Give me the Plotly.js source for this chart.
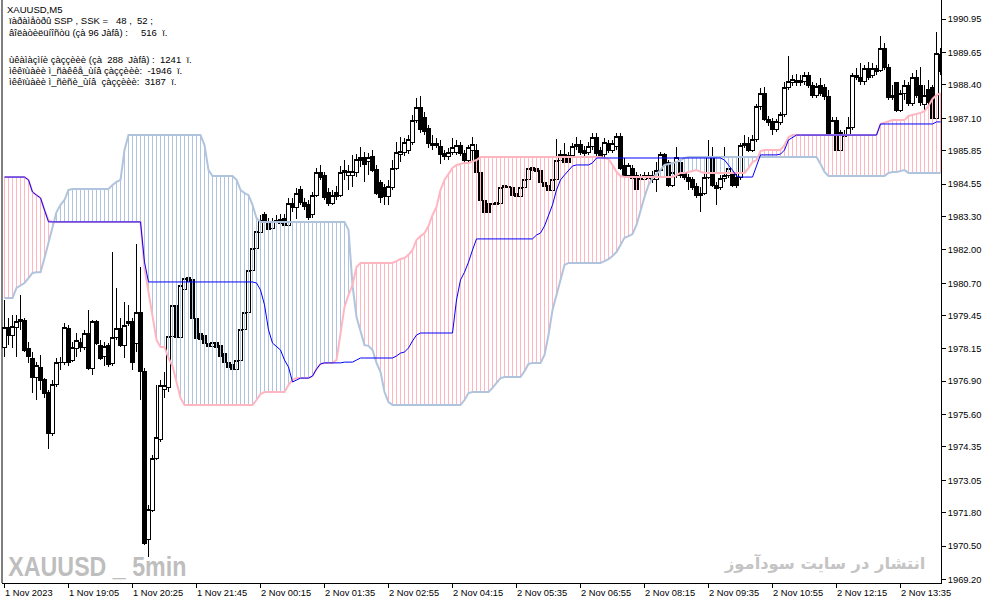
<!DOCTYPE html>
<html><head><meta charset="utf-8">
<script src="https://cdn.plot.ly/plotly-3.0.1.min.js"></script>
<style>html,body{margin:0;padding:0;background:#fff}#chart{width:987px;height:605px}
#chart .scatterlayer .trace:nth-child(-n+2) path.js-line{shape-rendering:crispEdges}
#chart .boxlayer path{shape-rendering:crispEdges}
</style>
</head><body><div id="chart"></div>
<script>
// ---- candles (5-minute bars, oldest first) ----
const opens=[1978.19,1979.00,1978.69,1979.00,1979.20,1979.24,1978.15,1977.80,1977.06,1977.45,
1976.95,1976.48,1974.89,1976.79,1977.61,1977.61,1978.96,1977.72,1978.15,1978.42,
1978.19,1978.77,1977.41,1979.20,1978.30,1977.84,1978.27,1977.57,1978.61,1978.96,
1978.30,1979.12,1979.20,1978.38,1979.58,1977.29,1970.74,1971.90,1973.92,1974.62,
1976.56,1976.64,1978.65,1979.82,1978.58,1980.44,1980.94,1980.83,1979.35,1978.77,
1978.69,1978.38,1978.23,1978.42,1978.30,1977.99,1977.64,1977.53,1977.37,1977.72,
1978.92,1979.58,1981.21,1982.03,1982.65,1983.35,1983.08,1982.84,1983.04,1983.19,
1983.23,1982.96,1983.81,1983.62,1984.32,1983.85,1983.74,1983.35,1984.12,1984.98,
1984.90,1984.24,1983.81,1984.24,1984.12,1984.98,1984.90,1984.90,1984.98,1985.56,
1985.56,1985.44,1985.60,1985.13,1984.59,1984.43,1984.05,1984.43,1985.17,1985.71,
1985.79,1985.87,1986.18,1987.03,1987.50,1987.15,1986.72,1986.14,1986.14,1985.99,
1985.75,1985.60,1985.79,1985.79,1986.06,1985.75,1985.48,1985.87,1985.87,1984.98,
1983.93,1983.81,1983.74,1983.77,1983.81,1984.43,1984.47,1984.43,1984.20,1984.05,
1984.40,1984.71,1985.21,1985.17,1985.09,1984.59,1984.51,1984.28,1984.71,1985.48,
1985.68,1985.64,1985.64,1985.99,1986.10,1985.87,1985.79,1985.99,1986.37,1985.87,
1985.68,1986.14,1985.87,1985.99,1986.41,1985.25,1984.90,1985.17,1984.90,1984.82,
1984.71,1984.78,1984.71,1984.71,1985.09,1985.68,1985.37,1984.51,1984.90,1985.37,
1984.98,1984.82,1984.71,1984.47,1984.20,1984.20,1984.82,1985.60,1984.51,1984.43,
1984.78,1984.90,1984.98,1984.82,1984.82,1986.06,1986.14,1985.87,1986.26,1987.54,
1988.08,1987.07,1986.96,1986.65,1986.92,1987.23,1988.31,1988.47,1988.55,1988.47,
1988.51,1988.78,1988.39,1988.00,1988.39,1988.31,1987.93,1986.45,1987.03,1985.87,
1986.41,1986.49,1986.76,1988.78,1988.70,1988.51,1989.05,1988.78,1989.05,1988.97,
1989.79,1989.09,1987.89,1988.47,1987.42,1988.08,1988.39,1987.69,1988.70,1988.39,
1987.62,1988.20,1988.31,1987.11,1989.56];
const highs=[1980.05,1979.35,1979.47,1979.47,1980.25,1979.35,1978.42,1978.03,1977.64,1977.92,
1977.02,1976.56,1976.95,1977.80,1977.84,1979.16,1979.08,1978.42,1978.77,1978.58,
1978.89,1979.66,1979.27,1979.27,1978.50,1978.42,1978.38,1981.91,1980.52,1979.35,
1979.97,1979.86,1979.35,1982.22,1981.33,1977.41,1972.10,1974.04,1976.75,1976.95,
1977.26,1978.77,1980.05,1980.71,1980.83,1981.02,1981.13,1980.98,1979.47,1978.89,
1978.77,1978.50,1978.50,1978.50,1978.38,1978.11,1977.80,1977.64,1977.80,1979.08,
1979.74,1981.37,1982.18,1982.84,1983.35,1983.46,1983.23,1983.23,1983.35,1983.39,
1983.39,1984.01,1984.01,1984.40,1984.47,1984.01,1983.93,1984.24,1985.17,1985.29,
1985.02,1984.40,1984.32,1984.47,1985.25,1985.48,1985.29,1985.68,1985.71,1985.99,
1985.79,1985.75,1985.87,1985.29,1984.71,1984.55,1984.71,1985.48,1986.18,1986.37,
1986.34,1986.45,1987.23,1987.89,1987.97,1987.35,1986.84,1986.45,1986.34,1986.26,
1985.87,1985.95,1986.34,1986.26,1986.18,1985.87,1986.06,1986.37,1986.10,1985.09,
1984.09,1983.93,1983.93,1983.97,1984.59,1984.71,1984.59,1984.55,1984.32,1984.51,
1984.82,1985.29,1985.37,1985.33,1985.21,1984.71,1984.63,1984.86,1986.30,1985.87,
1986.14,1985.79,1986.14,1986.37,1986.26,1986.03,1986.18,1986.53,1986.53,1985.99,
1986.34,1986.26,1986.26,1986.53,1986.53,1985.56,1985.37,1985.29,1985.02,1984.94,
1985.02,1985.02,1985.06,1985.40,1985.79,1985.75,1985.48,1985.09,1985.99,1985.48,
1985.09,1984.94,1984.82,1984.59,1984.43,1985.60,1986.26,1985.99,1984.63,1984.90,
1985.99,1985.29,1985.09,1984.94,1986.14,1986.45,1986.37,1986.45,1987.66,1988.28,
1988.31,1987.19,1987.11,1987.07,1987.35,1988.51,1989.52,1988.78,1988.82,1988.78,
1988.90,1988.90,1988.51,1988.47,1988.66,1988.43,1988.20,1987.15,1987.15,1986.65,
1986.65,1987.15,1988.86,1989.05,1989.25,1989.17,1989.28,1989.25,1989.17,1990.29,
1990.02,1989.21,1988.39,1988.51,1988.20,1988.59,1988.51,1988.86,1988.97,1989.09,
1988.39,1988.59,1988.39,1990.45,1989.83];
const lows=[1977.84,1978.30,1978.19,1977.84,1978.89,1978.03,1977.61,1976.44,1976.17,1976.56,
1976.25,1974.27,1974.77,1976.67,1977.33,1977.53,1977.49,1977.64,1977.84,1978.03,
1978.11,1977.33,1977.14,1978.30,1977.72,1977.49,1977.45,1977.49,1978.50,1978.23,
1977.80,1979.04,1977.33,1978.03,1976.17,1970.54,1970.08,1971.82,1973.84,1974.54,
1976.25,1976.48,1978.50,1978.42,1978.50,1980.05,1980.44,1979.27,1978.42,1978.34,
1978.27,1978.15,1978.11,1978.03,1977.76,1977.57,1977.37,1977.29,1977.29,1977.64,
1978.85,1979.51,1981.13,1981.91,1982.53,1982.96,1982.65,1982.69,1982.84,1982.84,
1982.84,1982.88,1983.46,1983.19,1983.74,1983.54,1983.15,1983.23,1984.05,1984.71,
1983.93,1983.70,1983.74,1983.93,1984.05,1984.71,1984.32,1984.43,1984.82,1985.21,
1984.63,1984.90,1985.02,1984.12,1983.81,1983.74,1983.74,1984.32,1985.09,1985.40,
1985.64,1985.71,1986.06,1986.92,1986.53,1986.45,1985.95,1985.87,1985.95,1985.33,
1985.48,1985.48,1985.68,1985.68,1985.64,1985.37,1985.37,1985.40,1984.86,1983.74,
1983.39,1983.35,1983.62,1983.70,1983.70,1984.32,1984.24,1984.05,1983.97,1983.97,
1984.32,1984.63,1984.98,1984.90,1984.47,1984.36,1984.20,1984.20,1984.63,1985.37,
1985.29,1985.25,1985.56,1985.87,1985.68,1985.64,1985.68,1985.87,1985.64,1985.48,
1985.56,1985.75,1985.75,1985.87,1985.09,1984.82,1984.78,1984.70,1984.24,1984.59,
1984.63,1984.67,1984.59,1984.24,1985.02,1985.17,1984.43,1984.43,1984.78,1984.78,
1984.71,1984.32,1984.32,1984.01,1983.46,1984.12,1984.74,1984.43,1983.74,1984.32,
1984.63,1984.78,1984.43,1984.40,1984.71,1985.95,1985.79,1985.79,1986.18,1987.42,
1986.99,1986.80,1986.45,1986.57,1986.84,1987.15,1988.20,1988.35,1988.35,1988.35,
1988.39,1988.28,1987.89,1987.89,1987.97,1987.81,1986.37,1986.26,1985.79,1985.79,
1986.26,1986.41,1986.65,1988.59,1988.39,1988.39,1988.59,1988.66,1988.78,1988.90,
1988.97,1987.81,1987.81,1987.35,1987.35,1987.81,1987.58,1987.58,1987.89,1987.58,
1987.42,1987.62,1986.72,1986.72,1988.78];
const closes=[1979.00,1978.69,1979.04,1979.20,1979.31,1978.11,1977.84,1977.06,1977.49,1976.91,
1976.44,1974.89,1976.79,1977.61,1977.64,1979.00,1977.64,1978.19,1978.46,1978.19,
1978.77,1977.41,1979.20,1978.38,1977.80,1978.23,1977.53,1978.61,1978.96,1978.30,
1979.08,1979.20,1977.61,1979.55,1977.26,1970.62,1971.94,1973.92,1974.70,1976.75,
1976.75,1978.65,1979.82,1978.58,1980.63,1980.90,1980.75,1979.35,1978.54,1978.50,
1978.38,1978.23,1978.42,1978.19,1977.84,1977.64,1977.45,1977.37,1977.72,1978.92,
1979.58,1981.21,1982.03,1982.69,1983.15,1983.04,1982.77,1983.08,1983.12,1983.00,
1982.96,1983.81,1983.62,1984.20,1983.85,1983.66,1983.27,1984.12,1984.98,1984.82,
1984.01,1983.81,1984.12,1984.05,1984.98,1985.09,1985.02,1985.02,1985.52,1985.48,
1985.29,1985.56,1985.09,1984.20,1984.01,1984.05,1984.47,1985.17,1985.79,1985.83,
1986.18,1986.26,1987.03,1987.50,1986.65,1986.57,1986.14,1986.06,1986.06,1985.68,
1985.60,1985.79,1985.95,1986.06,1985.75,1985.48,1985.95,1986.10,1984.98,1983.93,
1983.46,1983.43,1983.81,1983.85,1984.43,1984.51,1984.40,1984.12,1984.05,1984.40,
1984.71,1985.17,1985.09,1985.02,1984.59,1984.47,1984.28,1984.71,1985.48,1985.68,
1985.40,1985.40,1985.99,1986.10,1985.79,1985.75,1985.99,1986.37,1985.75,1985.60,
1986.18,1985.87,1986.14,1986.41,1985.17,1984.90,1985.25,1984.78,1984.32,1984.71,
1984.90,1984.90,1984.90,1985.09,1985.68,1985.29,1984.51,1984.98,1985.56,1984.90,
1984.82,1984.63,1984.43,1984.12,1984.12,1984.82,1985.60,1984.51,1984.36,1984.78,
1984.90,1985.17,1984.51,1984.51,1986.06,1986.14,1985.87,1986.26,1987.54,1988.08,
1987.07,1986.92,1986.65,1986.96,1987.23,1988.31,1988.51,1988.59,1988.47,1988.55,
1988.78,1988.39,1988.00,1988.35,1988.08,1987.93,1986.45,1987.03,1985.87,1986.53,
1986.49,1986.76,1988.78,1988.70,1988.51,1989.05,1988.70,1989.05,1988.90,1989.79,
1989.09,1987.89,1987.97,1987.42,1988.08,1988.39,1987.69,1988.70,1988.00,1987.73,
1988.00,1987.73,1987.11,1989.63,1988.90];

// ---- Ichimoku lines ----
const kijun=[1984.82,1984.82,1984.82,1984.82,1984.82,1984.82,1984.71,1984.24,1984.12,1984.01,
1983.54,1983.08,1983.08,1983.08,1983.08,1983.08,1983.08,1983.08,1983.08,1983.08,
1983.08,1983.08,1983.08,1983.08,1983.08,1983.08,1983.08,1983.08,1983.08,1983.08,
1983.08,1983.08,1983.08,1983.08,1983.08,1981.52,1980.75,1980.75,1980.75,1980.75,
1980.75,1980.75,1980.75,1980.75,1980.75,1980.75,1980.75,1980.75,1980.75,1980.75,
1980.75,1980.75,1980.75,1980.75,1980.75,1980.75,1980.75,1980.75,1980.75,1980.75,
1980.75,1980.75,1980.75,1980.71,1980.44,1979.86,1978.89,1978.38,1978.23,1978.11,
1977.72,1977.45,1976.87,1976.95,1977.02,1977.02,1977.02,1977.10,1977.37,1977.57,
1977.61,1977.61,1977.61,1977.61,1977.61,1977.64,1977.64,1977.64,1977.72,1977.80,
1977.80,1977.80,1977.80,1977.80,1977.80,1977.80,1977.80,1977.80,1977.88,1977.99,
1978.03,1978.19,1978.46,1978.69,1978.77,1978.77,1978.77,1978.77,1978.77,1978.77,
1978.77,1978.77,1978.77,1980.05,1980.83,1981.13,1981.52,1981.99,1982.42,1982.42,
1982.42,1982.42,1982.42,1982.42,1982.42,1982.42,1982.42,1982.42,1982.42,1982.42,
1982.42,1982.42,1982.42,1982.57,1982.65,1982.92,1983.35,1983.74,1984.32,1984.71,
1984.90,1985.09,1985.25,1985.29,1985.29,1985.29,1985.29,1985.37,1985.56,1985.56,
1985.56,1985.56,1985.56,1985.56,1985.56,1985.56,1985.56,1985.56,1985.56,1985.56,
1985.56,1985.56,1985.56,1985.56,1985.56,1985.56,1985.56,1985.56,1985.56,1985.56,
1985.56,1985.56,1985.56,1985.56,1985.56,1985.56,1985.56,1985.56,1985.56,1985.56,
1985.48,1985.29,1985.09,1984.86,1984.82,1984.82,1984.82,1984.82,1985.25,1985.68,
1985.68,1985.68,1985.68,1985.68,1985.71,1985.87,1986.26,1986.37,1986.45,1986.45,
1986.45,1986.45,1986.45,1986.45,1986.45,1986.45,1986.45,1986.45,1986.45,1986.45,
1986.45,1986.45,1986.45,1986.45,1986.45,1986.45,1986.45,1986.45,1986.45,1986.88,
1986.88,1986.88,1986.88,1986.88,1986.88,1986.88,1986.88,1986.88,1986.88,1986.88,
1986.88,1986.88,1986.88,1986.96,1986.96];
const spanA=[1984.82,1984.82,1984.82,1984.82,1984.82,1984.82,1984.71,1984.24,1984.12,1984.01,
1983.54,1983.15,1983.08,1983.08,1983.08,1983.08,1983.08,1983.08,1983.08,1983.08,
1983.08,1983.08,1983.08,1983.08,1983.08,1983.08,1983.08,1983.08,1983.08,1983.08,
1983.08,1983.08,1983.08,1983.08,1983.08,1981.29,1980.32,1979.47,1978.50,1978.23,
1978.23,1977.80,1977.49,1976.87,1976.25,1975.98,1975.98,1975.98,1975.98,1975.98,
1975.98,1975.98,1975.98,1975.98,1975.98,1975.98,1975.98,1975.98,1975.98,1975.98,
1975.98,1975.98,1975.98,1976.17,1976.40,1976.48,1976.48,1976.48,1976.48,1976.48,
1976.48,1976.75,1976.95,1977.02,1977.02,1977.02,1977.02,1977.10,1977.37,1977.57,
1977.61,1977.61,1977.61,1977.72,1978.69,1979.78,1980.25,1980.63,1981.33,1981.49,
1981.49,1981.49,1981.49,1981.49,1981.49,1981.49,1981.49,1981.49,1981.56,1981.64,
1981.68,1981.80,1981.99,1982.38,1982.53,1982.65,1982.92,1983.35,1983.66,1984.32,
1984.71,1984.94,1985.17,1985.29,1985.33,1985.37,1985.37,1985.44,1985.48,1985.60,
1985.60,1985.60,1985.60,1985.60,1985.60,1985.60,1985.60,1985.60,1985.60,1985.60,
1985.60,1985.60,1985.60,1985.60,1985.60,1985.60,1985.60,1985.60,1985.60,1985.60,
1985.60,1985.60,1985.60,1985.60,1985.60,1985.60,1985.60,1985.60,1985.60,1985.60,
1985.56,1985.52,1985.29,1985.02,1984.86,1984.82,1984.82,1984.82,1984.82,1984.82,
1984.82,1984.82,1984.82,1984.82,1984.82,1984.82,1984.82,1984.82,1984.90,1984.98,
1984.98,1985.02,1985.06,1985.09,1985.02,1984.98,1984.98,1984.98,1984.98,1984.98,
1984.98,1984.98,1984.98,1984.98,1984.98,1984.98,1985.17,1985.40,1985.48,1985.83,
1985.87,1985.87,1985.87,1985.87,1985.87,1986.06,1986.37,1986.45,1986.45,1986.45,
1986.45,1986.45,1986.45,1986.45,1986.45,1986.45,1986.45,1986.45,1986.45,1986.45,
1986.45,1986.45,1986.45,1986.45,1986.45,1986.45,1986.45,1986.45,1986.45,1986.88,
1986.92,1986.96,1987.03,1987.03,1987.03,1987.03,1987.19,1987.23,1987.27,1987.31,
1987.38,1987.58,1987.85,1988.00,1988.08];
const spanB=[1980.13,1980.13,1980.13,1980.52,1980.63,1980.71,1980.90,1981.10,1981.13,1981.13,
1981.68,1982.26,1982.84,1983.46,1983.74,1983.93,1984.32,1984.36,1984.36,1984.36,
1984.36,1984.36,1984.36,1984.36,1984.36,1984.36,1984.36,1984.51,1984.63,1984.71,
1985.87,1986.45,1986.45,1986.45,1986.45,1986.45,1986.45,1986.45,1986.45,1986.45,
1986.45,1986.45,1986.45,1986.45,1986.45,1986.45,1986.45,1986.45,1986.45,1986.45,
1986.06,1985.09,1984.86,1984.86,1984.86,1984.86,1984.86,1984.86,1984.71,1984.32,
1984.20,1984.12,1983.74,1983.23,1983.08,1983.08,1983.08,1983.08,1983.08,1983.08,
1983.08,1983.08,1983.08,1983.08,1983.08,1983.08,1983.08,1983.08,1983.08,1983.08,
1983.08,1983.08,1983.08,1983.08,1983.08,1983.08,1982.77,1980.63,1979.39,1978.89,
1978.30,1978.27,1978.11,1977.61,1977.26,1976.48,1976.09,1975.98,1975.98,1975.98,
1975.98,1975.98,1975.98,1975.98,1975.98,1975.98,1975.98,1975.98,1975.98,1975.98,
1975.98,1975.98,1975.98,1975.98,1975.98,1976.17,1976.44,1976.48,1976.48,1976.48,
1976.48,1976.48,1976.64,1976.83,1977.02,1977.06,1977.06,1977.06,1977.06,1977.06,
1977.29,1977.57,1977.61,1977.61,1977.61,1977.92,1978.69,1979.66,1980.25,1980.83,
1981.41,1981.49,1981.49,1981.49,1981.49,1981.49,1981.49,1981.49,1981.49,1981.49,
1981.56,1981.64,1981.76,1981.91,1982.18,1982.46,1982.53,1982.61,1982.96,1983.54,
1984.05,1984.51,1984.78,1984.94,1985.09,1985.29,1985.33,1985.37,1985.40,1985.48,
1985.56,1985.60,1985.60,1985.60,1985.60,1985.60,1985.60,1985.60,1985.60,1985.60,
1985.60,1985.60,1985.60,1985.60,1985.60,1985.60,1985.60,1985.60,1985.60,1985.60,
1985.60,1985.60,1985.60,1985.60,1985.60,1985.60,1985.60,1985.60,1985.60,1985.60,
1985.60,1985.60,1985.60,1985.60,1985.33,1985.02,1984.86,1984.86,1984.86,1984.86,
1984.86,1984.86,1984.86,1984.86,1984.86,1984.86,1984.86,1984.86,1984.86,1984.86,
1984.86,1984.98,1985.02,1985.02,1985.06,1985.09,1984.98,1984.98,1984.98,1984.98,
1984.98,1984.98,1984.98,1984.98,1984.98];

// ---- axis labels and texts ----
const timeTickBars=[0,16,32,48,64,80,96,112,128,144,160,176,192,208,224];
const timeTickLabels=["1 Nov 2023","1 Nov 19:05","1 Nov 20:25","1 Nov 21:45","2 Nov 00:15","2 Nov 01:35","2 Nov 02:55","2 Nov 04:15","2 Nov 05:35","2 Nov 06:55","2 Nov 08:15","2 Nov 09:35","2 Nov 10:55","2 Nov 12:15","2 Nov 13:35"];
const priceTicks=[1969.20,1970.50,1971.80,1973.05,1974.35,1975.60,1976.90,1978.15,1979.45,1980.70,1982.00,1983.30,1984.55,1985.85,1987.10,1988.40,1989.65,1990.95];
const infoLines=["XAUUSD,M5",
"ïàðàìåòðû SSP , SSK =   48 ,  52 ;",
"âîëàòèëüíîñòü (çà 96 Jàfâ) :     516  ï.",
"ùêàìàçìíè çàççèèè (çà  288  Jàfâ) :  1241  ï.",
"ìêêïùàèè ì_ñàêêå_ùíâ çàççèèè:  -1946  ï.",
"ìêêïùàèè ì_ñèñè_ùíâ  çàççèèè:  3187  ï."];
const watermarkLeft="XAUUSD _ 5min";
const watermarkRight="انتشار در سایت سودآموز";

// ---- styling ----
const PINK="#FFB6C1", STEEL="#B0C4DE";
const W=987,H=605,L=2,R=46,T=0,B=22;
const pw=W-L-R, ph=H-T-B;
const px=x=>(x-L)/pw, py=y=>1-(y-T)/ph;
const nb=s=>s.replace(/ /g,"\u00A0");

const idx=closes.map((_,i)=>i);
// cloud hatch: one vertical segment per bar between span A and span B
const hatch={pink:{x:[],y:[]},steel:{x:[],y:[]}};
spanA.forEach((a,i)=>{
  const b=spanB[i]; if(a===b) return;
  const h=a>b?hatch.pink:hatch.steel;
  h.x.push(i,i,null); h.y.push(a,b,null);
});

const traces=[
 {type:"scatter",mode:"lines",x:hatch.pink.x,y:hatch.pink.y,line:{color:PINK,width:1},connectgaps:false,hoverinfo:"skip"},
 {type:"scatter",mode:"lines",x:hatch.steel.x,y:hatch.steel.y,line:{color:STEEL,width:1},connectgaps:false,hoverinfo:"skip"},
 {type:"scatter",mode:"lines",x:idx,y:spanB,line:{color:STEEL,width:2},hoverinfo:"skip"},
 {type:"scatter",mode:"lines",x:idx,y:spanA,line:{color:PINK,width:2},hoverinfo:"skip"},
 {type:"scatter",mode:"lines",x:idx,y:kijun,line:{color:"#0000FF",width:1},hoverinfo:"skip"},
 {type:"candlestick",x:idx,open:opens,high:highs,low:lows,close:closes,whiskerwidth:0,
  increasing:{line:{color:"#000",width:1},fillcolor:"#FFFFFF"},
  decreasing:{line:{color:"#000",width:1},fillcolor:"#000000"},hoverinfo:"skip"}
];

const ann=[];
const infoY=[9,21,33,59.5,70.5,81.5];
infoLines.forEach((t,i)=>ann.push({xref:"paper",yref:"paper",x:px(i===0?5:7),y:py(infoY[i]),xanchor:"left",yanchor:"middle",showarrow:false,text:nb(t),font:{family:"Liberation Sans, Arial, sans-serif",size:9.5,color:"#000"}}));
timeTickBars.forEach((b,i)=>ann.push({xref:"x",yref:"paper",x:b,y:py(593),xanchor:"left",yanchor:"middle",xshift:-2,showarrow:false,text:nb(timeTickLabels[i]),font:{family:"Liberation Sans, Arial, sans-serif",size:9.3,color:"#000"}}));
ann.push({xref:"paper",yref:"paper",x:px(97),y:py(566),xanchor:"center",yanchor:"middle",showarrow:false,text:nb(watermarkLeft),font:{family:"Liberation Sans Narrow, Arial Narrow, Liberation Sans, sans-serif",size:28,weight:"bold",color:"#BEBEBE"}});
ann.push({xref:"paper",yref:"paper",x:px(927),y:py(563),xanchor:"right",yanchor:"middle",showarrow:false,text:watermarkRight,font:{family:"DejaVu Sans, sans-serif",size:16.3,weight:"bold",color:"#C4C4C4"}});

const layout={
 width:W,height:H,margin:{l:L,r:R,t:T,b:B,pad:0},
 paper_bgcolor:"#FFFFFF",plot_bgcolor:"#FFFFFF",showlegend:false,
 boxgap:0.2,boxgroupgap:0.05,
 xaxis:{range:[-0.625,234.125],showgrid:false,zeroline:false,showline:true,linecolor:"#000",linewidth:1,
  ticks:"outside",ticklen:4,tickcolor:"#000",tickwidth:1,tickvals:timeTickBars,showticklabels:false,
  rangeslider:{visible:false},fixedrange:true},
 yaxis:{range:[1969.07,1991.69],side:"right",showgrid:false,zeroline:false,showline:true,linecolor:"#000",linewidth:1,
  ticks:"outside",ticklen:4,tickcolor:"#000",tickwidth:1,tickvals:priceTicks,ticktext:priceTicks.map(v=>v.toFixed(2)),
  tickfont:{family:"Liberation Sans, Arial, sans-serif",size:9.3,color:"#000"},fixedrange:true},
 annotations:ann,
 shapes:[{type:"line",xref:"paper",yref:"paper",x0:0,x1:0,y0:0,y1:1,line:{color:"#000",width:1}}]
};
Plotly.newPlot("chart",traces,layout,{displayModeBar:false,staticPlot:true}).then(gd=>{
  // squeeze the bold watermark to the narrow width seen in the reference
  gd.querySelectorAll(".annotation-text").forEach(t=>{
    if(t.textContent.indexOf("XAUUSD")===0 && t.textContent.indexOf("5min")>0){
      t.setAttribute("textLength","178"); t.setAttribute("lengthAdjust","spacingAndGlyphs"); }});
});
</script></body></html>
